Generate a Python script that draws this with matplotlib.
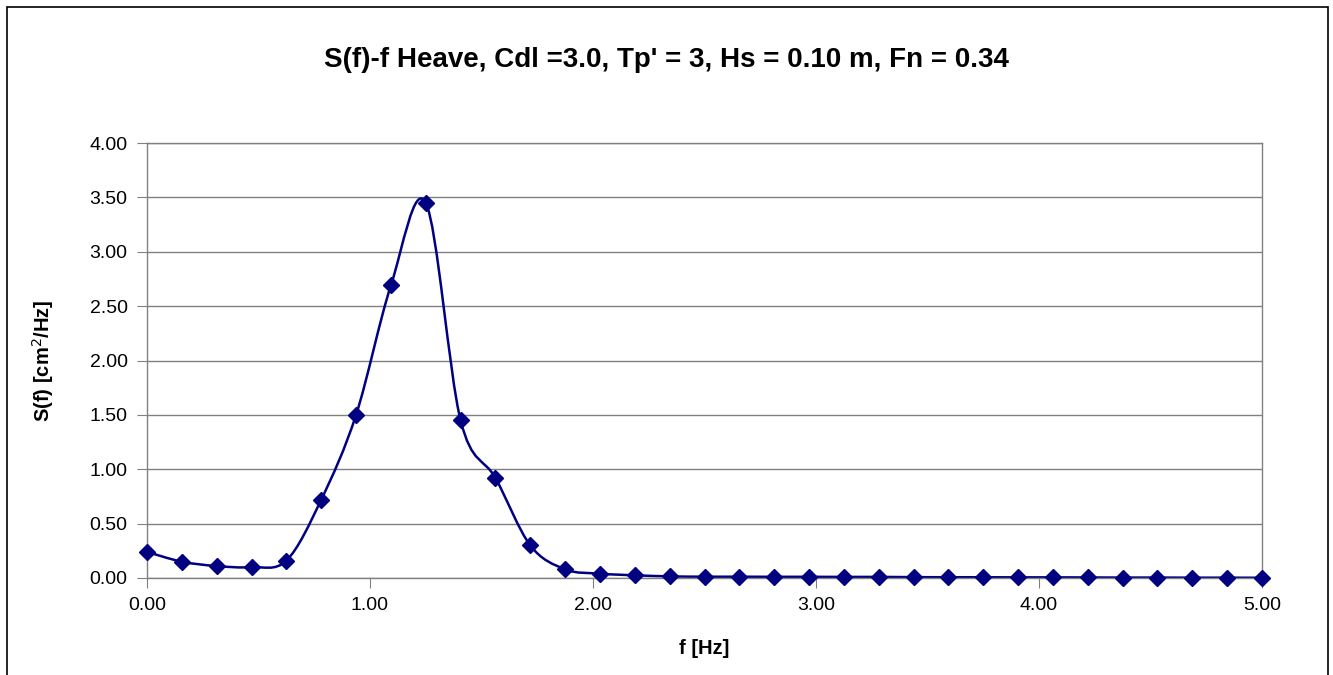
import numpy as np
import matplotlib
matplotlib.use('Agg')
import matplotlib.pyplot as plt
from matplotlib.path import Path
from matplotlib.patches import PathPatch, Rectangle

plt.rcParams['font.family'] = ['Liberation Sans', 'DejaVu Sans']

# frequency step is 5/32 Hz, 33 points from 0 to 5
freq = [0.0, 0.15625, 0.3125, 0.46875, 0.625, 0.78125, 0.9375, 1.09375, 1.25,
        1.40625, 1.5625, 1.71875, 1.875, 2.03125, 2.1875, 2.34375, 2.5,
        2.65625, 2.8125, 2.96875, 3.125, 3.28125, 3.4375, 3.59375, 3.75,
        3.90625, 4.0625, 4.21875, 4.375, 4.53125, 4.6875, 4.84375, 5.0]
sf = [0.24, 0.15, 0.11, 0.10, 0.16, 0.72, 1.50, 2.69, 3.45,
      1.45, 0.92, 0.30, 0.08, 0.04, 0.025, 0.015, 0.012,
      0.012, 0.011, 0.011, 0.010, 0.010, 0.008, 0.007, 0.007,
      0.006, 0.006, 0.005, 0.004, 0.004, 0.003, 0.003, 0.002]

xticks = [0, 1, 2, 3, 4, 5]
yticks = [0, 0.5, 1.0, 1.5, 2.0, 2.5, 3.0, 3.5, 4.0]
col = '#000080'

def smooth_path(x, y):
    # excel style smoothed line: bezier segments between the points
    pts = np.column_stack([x, y])
    n = len(pts)
    verts = [pts[0]]
    codes = [Path.MOVETO]
    for i in range(n - 1):
        p0 = pts[i - 1] if i > 0 else pts[i]
        p1 = pts[i]
        p2 = pts[i + 1]
        p3 = pts[i + 2] if i + 2 < n else pts[i + 1]
        c1 = p1 + (p2 - p0) / 6
        c2 = p2 - (p3 - p1) / 6
        verts += [c1, c2, p2]
        codes += [Path.CURVE4] * 3
    return Path(verts, codes)

fig = plt.figure(figsize=(13.33, 6.75), dpi=100)
ax = fig.add_axes([147/1333, 1-578/675, (1262-147)/1333, (578-143)/675])

# chart border (bottom edge is off the picture)
fig.patches.append(Rectangle((7/1333, -0.05), (1328-7)/1333, 1.05-7/675,
                             transform=fig.transFigure, fill=False,
                             edgecolor='black', linewidth=1.2))

ax.add_patch(PathPatch(smooth_path(freq, sf), facecolor='none',
                       edgecolor=col, linewidth=1.8, clip_on=False))
ax.plot(freq, sf, linestyle='none', marker='D', markersize=8.5,
        color=col, clip_on=False, zorder=5)

ax.set_xlim(0, 5)
ax.set_ylim(0, 4)
ax.set_xticks(xticks)
ax.set_yticks(yticks)
ax.set_xticklabels([f'{v:.2f}' for v in xticks], fontsize=14)
ax.set_yticklabels([f'{v:.2f}' for v in yticks], fontsize=14)
ax.grid(True, axis='y', color='#808080', linewidth=1)
ax.set_axisbelow(True)
for s in ax.spines.values():
    s.set_color('#808080')
    s.set_linewidth(1)
ax.tick_params(direction='out', length=7, color='#808080', pad=7)

ax.set_xlabel('f [Hz]', fontsize=14.5, fontweight='bold', labelpad=18)
ax.set_ylabel('S(f) [cm$^2$/Hz]', fontsize=14.5, fontweight='bold', labelpad=24)
fig.text(0.5, 1-60/675, "S(f)-f Heave, Cdl =3.0, Tp' = 3, Hs = 0.10 m, Fn = 0.34",
         ha='center', va='center', fontsize=20, fontweight='bold')

fig.savefig('out.png', dpi=100)
